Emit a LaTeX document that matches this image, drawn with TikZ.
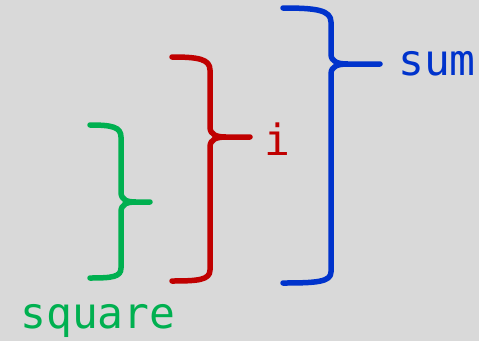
\documentclass[tikz,border=0pt]{standalone}
\usepackage{fontspec}
\setmonofont{DejaVu Sans Mono}
\definecolor{bggray}{RGB}{217,217,217}
\definecolor{sqgreen}{RGB}{0,176,80}
\definecolor{ired}{RGB}{192,0,0}
\definecolor{sumblue}{RGB}{0,51,204}
\begin{document}
\begin{tikzpicture}[x=1pt,y=-1pt]

  \tikzstyle{brace}=[line width=5.5pt,line cap=round,line join=round]
  \tikzstyle{texto}=[inner sep=0pt,anchor=base,font=\fontsize{43}{43}\ttfamily]

  \useasboundingbox [fill=bggray] (0,0) rectangle (479,341);

  % square
  \draw [brace,sqgreen] (90,125) .. controls (112,125) and (121,127) .. (121,137)
    -- (121,192) .. controls (121,200) and (127,202) .. (136,202) -- (150,202)
    -- (136,202) .. controls (127,202) and (121,204) .. (121,212)
    -- (121,268) .. controls (121,277) and (112,278) .. (90,278);

  % i
  \draw [brace,ired] (172,57) .. controls (198,57) and (210,59) .. (210,70)
    -- (210,127) .. controls (210,135) and (217,137) .. (226,137) -- (250,137)
    -- (226,137) .. controls (217,137) and (210,139) .. (210,147)
    -- (210,270) .. controls (210,280) and (198,281) .. (172,281);

  % sum
  \draw [brace,sumblue] (283,8) .. controls (316,8) and (331,10) .. (331,22)
    -- (331,54) .. controls (331,62) and (338,64) .. (348,64) -- (380,64)
    -- (348,64) .. controls (338,64) and (331,66) .. (331,74)
    -- (331,272) .. controls (331,282) and (316,283) .. (283,283);

  \node [texto,sqgreen] (sq) at (98,328) {square};
  \node [texto,ired] (ii) at (277,155) {i};
  \node [texto,sumblue] (sm) at (437,75) {sum};

\end{tikzpicture}
\end{document}
